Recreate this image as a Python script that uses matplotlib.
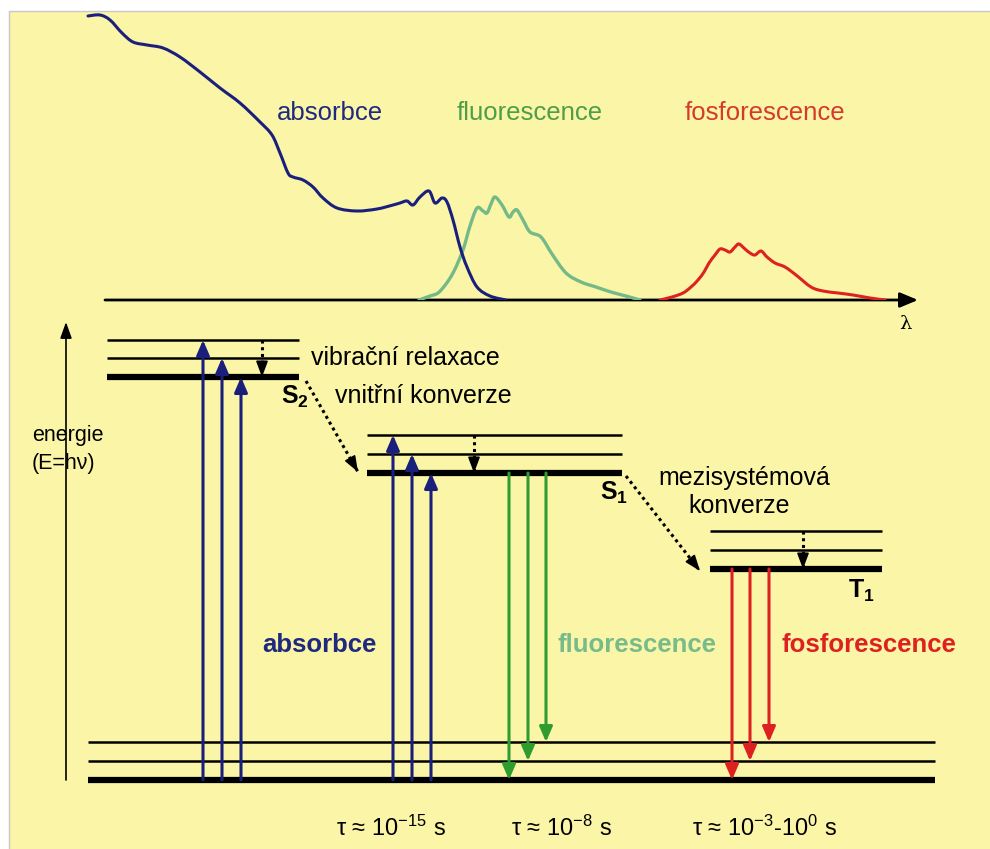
import matplotlib
matplotlib.use("Agg")
import matplotlib.pyplot as plt
from matplotlib.patches import Rectangle, PathPatch
from matplotlib.path import Path
import numpy as np

plt.rcParams['font.family'] = ['Liberation Sans', 'DejaVu Sans']
plt.rcParams['mathtext.fontset'] = 'custom'
plt.rcParams['mathtext.rm'] = 'Liberation Sans'
plt.rcParams['mathtext.it'] = 'Liberation Sans:italic'
plt.rcParams['mathtext.bf'] = 'Liberation Sans:bold'

# ---------------- data ----------------
# spectra (x position along wavelength axis, intensity above baseline)
absorb_x = [88, 100, 110, 122, 133, 147, 163, 180, 200, 220, 240, 260, 272, 280, 288, 293, 303, 313,
            323, 337, 357, 377, 393, 400, 407, 413, 420, 429, 435, 442, 447, 453, 460, 467, 477, 490, 506]
absorb_i = [284, 285, 280, 267, 258, 255, 252, 243, 228, 212, 197, 178, 165, 147, 127, 123, 120, 113,
            102, 92, 89, 91, 95, 97, 99, 95, 103, 109, 97, 102, 98, 80, 53, 33, 13, 4, 0]
fluor_x = [419, 430, 438, 446, 453, 459, 464, 470, 477, 483, 487, 491, 495, 502, 509, 513, 517, 523,
           530, 541, 552, 566, 581, 596, 611, 626, 640]
fluor_i = [0, 4, 7, 16, 27, 40, 53, 74, 92, 89, 87, 96, 103, 95, 83, 88, 90, 80,
           68, 63, 46, 27, 18, 13, 8, 4, 0]
phos_x = [660, 672, 683, 691, 698, 704, 709, 715, 720, 725, 730, 735, 739, 745, 750, 755, 761, 767,
          775, 785, 796, 811, 823, 838, 853, 870, 885]
phos_i = [0, 3, 7, 13, 20, 28, 37, 45, 51, 50, 48, 53, 56, 51, 47, 45, 49, 43,
          37, 33, 25, 13, 9, 7, 5, 2, 0]

# energy levels (energy above ground state, vibrational sublevels: thick first)
ground_E = [0, 19, 38]
S2_E = [403, 422, 440]
S1_E = [307, 326, 345]
T1_E = [211, 230, 249]
level_extent = {"S0": (88, 935), "S2": (107, 299), "S1": (367, 622), "T1": (710, 882)}

# transitions
abs_S2_x = [203, 222, 241]
abs_S2_to = [440, 422, 403]
abs_S1_x = [393, 412, 431]
abs_S1_to = [345, 326, 307]
fl_x = [509, 528, 546]
fl_to = [0, 19, 38]
ph_x = [732, 750, 769]
ph_to = [0, 19, 38]

tau_labels = [r"τ ≈ 10$^{-15}$ s", r"τ ≈ 10$^{-8}$ s", r"τ ≈ 10$^{-3}$-10$^{0}$ s"]
tau_x = [391, 561, 765]

# colours
YELLOW = "#FBF5A8"
NAVY = "#1B1F7C"
NAVY_TXT = "#1F2A7E"
GREEN_CURVE = "#74BA88"
GREEN_TXT_TOP = "#4E9E48"
GREEN_ARROW = "#2F9C2F"
GREEN_TXT_BOLD = "#77BB8A"
RED = "#DD2020"
RED_TXT = "#D43A2E"

# ---------------- figure ----------------
fig = plt.figure(figsize=(9.9, 8.49), dpi=100)
fig.patch.set_facecolor("white")

bg = fig.add_axes([0, 0, 1, 1], zorder=-10)
bg.set_xlim(0, 990)
bg.set_ylim(849, 0)
bg.axis("off")
bg.add_patch(Rectangle((9, 11), 990, 849, facecolor=YELLOW, edgecolor="#C8C8C8", lw=1.0))

# lower (energy) axes: full figure, energy 0 at pixel row 780
ax = fig.add_axes([0, 0, 1, 1])
ax.set_xlim(0, 990)
ax.set_ylim(780 - 849, 780)
ax.axis("off")
ax.patch.set_alpha(0)

# spectrum axes: baseline at pixel row 300
sx = fig.add_axes([0, (849 - 300) / 849, 1, 300 / 849])
sx.set_xlim(0, 990)
sx.set_ylim(0, 300)
sx.axis("off")
sx.patch.set_alpha(0)


def smooth_curve(axis, xs, ys, color, lw, z):
    """Draw a smooth (Catmull-Rom -> Bezier) path through the read points."""
    P = np.column_stack([xs, ys]).astype(float)
    n = len(P)
    verts = [P[0]]
    codes = [Path.MOVETO]
    for i in range(n - 1):
        p0 = P[i - 1] if i > 0 else P[i]
        p1, p2 = P[i], P[i + 1]
        p3 = P[i + 2] if i + 2 < n else P[i + 1]
        c1 = p1 + (p2 - p0) / 6.0
        c2 = p2 - (p3 - p1) / 6.0
        verts += [c1, c2, p2]
        codes += [Path.CURVE4] * 3
    axis.add_patch(PathPatch(Path(verts, codes), facecolor="none", edgecolor=color,
                             lw=lw, capstyle="round", joinstyle="round", zorder=z))


# spectra
smooth_curve(sx, absorb_x, absorb_i, NAVY, 2.2, 4)
smooth_curve(sx, fluor_x, fluor_i, GREEN_CURVE, 2.4, 3)
smooth_curve(sx, phos_x, phos_i, RED, 2.2, 3)
sx.annotate("", xy=(918, 0), xytext=(105, 0),
            arrowprops=dict(arrowstyle="-|>,head_length=0.6,head_width=0.25", color="black",
                            lw=2.0, shrinkA=0, shrinkB=0, mutation_scale=18), zorder=2)
sx.text(330, 187, "absorbce", color=NAVY_TXT, fontsize=18.5, ha="center", va="center")
sx.text(530, 187, "fluorescence", color=GREEN_TXT_TOP, fontsize=18.5, ha="center", va="center")
sx.text(765, 187, "fosforescence", color=RED_TXT, fontsize=18.5, ha="center", va="center")
ax.text(905, 456, "λ", fontsize=14, ha="center", va="center", family=["DejaVu Serif"])

# energy axis
ax.annotate("", xy=(66, 780 - 322), xytext=(66, 0),
            arrowprops=dict(arrowstyle="-|>,head_length=0.7,head_width=0.25", color="black",
                            lw=1.2, shrinkA=0, shrinkB=0, mutation_scale=14))
ax.text(32, 345, "energie", fontsize=15.5, ha="left", va="center")
ax.text(32, 317, "(E=hν)", fontsize=15.5, ha="left", va="center")

# levels
def draw_levels(E, key):
    x0, x1 = level_extent[key]
    for k, e in enumerate(E):
        ax.plot([x0, x1], [e, e], color="black", lw=4.5 if k == 0 else 1.8,
                solid_capstyle="butt", zorder=2)

draw_levels(ground_E, "S0")
draw_levels(S2_E, "S2")
draw_levels(S1_E, "S1")
draw_levels(T1_E, "T1")

def arrow(x0, y0, x1, y1, color, lw=2.2, ms=14):
    ax.annotate("", xy=(x1, y1), xytext=(x0, y0),
                arrowprops=dict(arrowstyle="-|>,head_length=0.65,head_width=0.28", color=color,
                                lw=lw, shrinkA=0, shrinkB=0, mutation_scale=ms), zorder=3)

for x, e in zip(abs_S2_x, abs_S2_to):
    arrow(x, 0, x, e, NAVY)
for x, e in zip(abs_S1_x, abs_S1_to):
    arrow(x, 0, x, e, NAVY)
for x, e in zip(fl_x, fl_to):
    arrow(x, S1_E[0], x, e, GREEN_ARROW)
for x, e in zip(ph_x, ph_to):
    arrow(x, T1_E[0], x, e, RED)

def dotted_arrow(x0, y0, x1, y1):
    ax.plot([x0, x1], [y0, y1], color="black", lw=2.2, linestyle=(0, (1, 1.2)), zorder=3)
    dx, dy = x1 - x0, y1 - y0
    L = np.hypot(dx, dy)
    ax.annotate("", xy=(x1, y1), xytext=(x1 - dx / L * 3, y1 - dy / L * 3),
                arrowprops=dict(arrowstyle="-|>,head_length=0.8,head_width=0.3", color="black",
                                lw=1.2, shrinkA=0, shrinkB=0, mutation_scale=12), zorder=3)

# vibrational relaxation
dotted_arrow(262, S2_E[2], 262, S2_E[0])
dotted_arrow(474, S1_E[2], 474, S1_E[0])
dotted_arrow(803, T1_E[2], 803, T1_E[0])
# internal conversion & intersystem crossing
dotted_arrow(306, 780 - 381, 358, 780 - 472)
dotted_arrow(626, 780 - 476, 700, 780 - 571)

# labels
ax.text(311, 422, "vibrační relaxace", fontsize=18, ha="left", va="center")
ax.text(335, 384, "vnitřní konverze", fontsize=18, ha="left", va="center")
ax.text(281, 383, r"$\mathbf{S_2}$", fontsize=18, ha="left", va="center")
ax.text(600, 287, r"$\mathbf{S_1}$", fontsize=18, ha="left", va="center")
ax.text(848, 189, r"$\mathbf{T_1}$", fontsize=18, ha="left", va="center")
ax.text(744, 302, "mezisystémová", fontsize=18, ha="center", va="center")
ax.text(739, 274, "konverze", fontsize=18, ha="center", va="center")

ax.text(262, 135, "absorbce", fontsize=18.5, fontweight="bold", color=NAVY_TXT, ha="left", va="center")
ax.text(558, 135, "fluorescence", fontsize=18.5, fontweight="bold", color=GREEN_TXT_BOLD, ha="left", va="center")
ax.text(781, 135, "fosforescence", fontsize=18.5, fontweight="bold", color=RED, ha="left", va="center")

for lbl, x in zip(tau_labels, tau_x):
    ax.text(x, -48, lbl, fontsize=17, ha="center", va="center")

fig.savefig("out.png", dpi=100, facecolor=fig.get_facecolor())
